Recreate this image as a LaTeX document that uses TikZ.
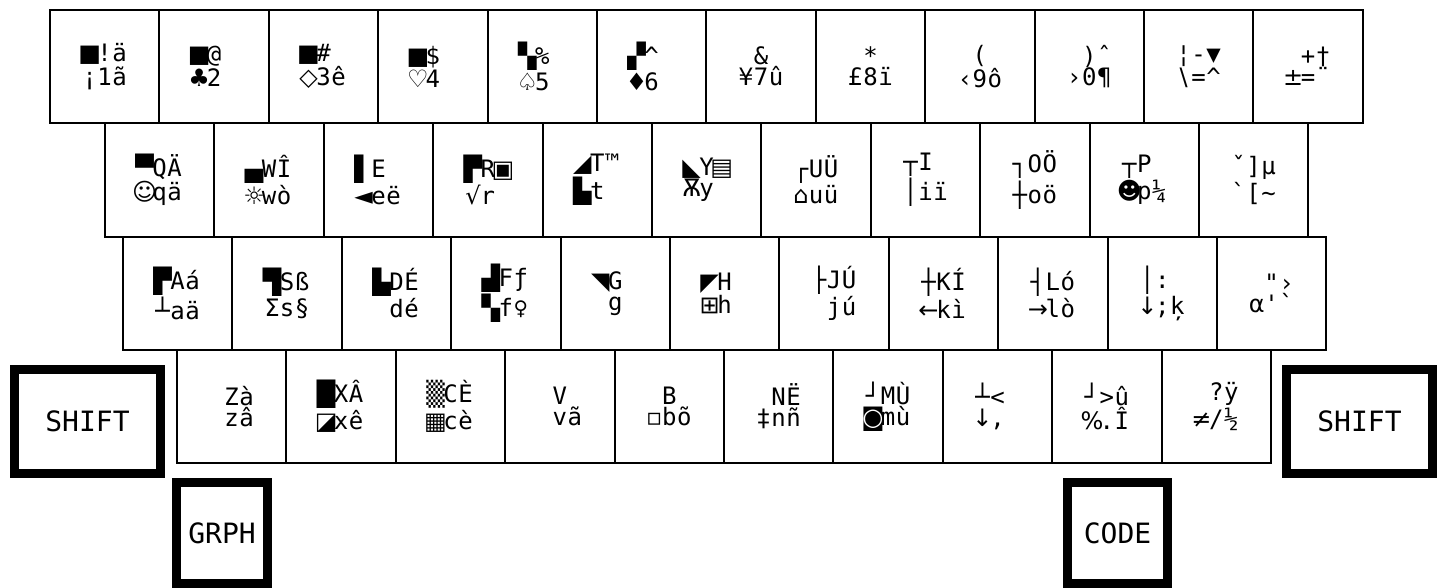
\documentclass[tikz,border=0pt]{standalone}
\usepackage{fontspec}
\setmonofont{DejaVu Sans Mono}
\newfontfamily\symfont{DejaVu Sans}
\usetikzlibrary{positioning}
\newlength\cw \setlength\cw{7.5pt}
\newcommand\cell[1]{\makebox[\cw]{#1}}
\newcommand\gcell[1]{\makebox[\cw]{\symfont #1}}
\newcommand\keytext[6]{\gcell{#1}\cell{#2}\cell{#3}\\\gcell{#4}\cell{#5}\cell{#6}}
\tikzset{
  key/.style={draw,line width=1pt,minimum width=54.7pt,minimum height=56.6pt,inner sep=0pt,align=center,font=\fontsize{12}{10.5}\selectfont\ttfamily},
  modkey/.style={draw,line width=4.5pt,inner sep=0pt,font=\fontsize{14}{16}\selectfont\ttfamily},
}
\begin{document}
\begin{tikzpicture}[x=0.5pt,y=-0.5pt]
 \useasboundingbox (0,0) rectangle (1438,588);
 \fill[white] (0,0) rectangle (1438,588);
 \foreach \k [count=\i] in {{■}{!}{ä}{¡}{1}{ã},{■}{@}{}{♣}{2}{},{■}{\#}{}{◇}{3}{ê},{■}{\$}{}{♡}{4}{},
   {▚}{\%}{}{♤}{5}{},{▞}{\textasciicircum}{}{♦}{6}{},{}{\&}{}{¥}{7}{û},{}{*}{}{£}{8}{ï},
   {}{(}{}{‹}{9}{ô},{}{)}{ˆ}{›}{0}{¶},{¦}{-}{▼}{\textbackslash}{=}{\textasciicircum},{}{+}{†}{±}{=}{¨}}
  {\node[key] (num\i) at ({50+(\i-0.5)*109.4},66.6) {\expandafter\keytext\k};}
 \foreach \k [count=\i] in {{▀}{Q}{Ä}{☺}{q}{ä},{▄}{W}{Î}{☼}{w}{ò},{▌}{E}{}{◄}{e}{ë},{▛}{R}{\symfont ▣}{√}{r}{},
   {◢}{T}{™}{▙}{t}{},{◣}{Y}{\symfont ▤}{Ѫ}{y}{},{┌}{U}{Ü}{⌂}{u}{ü},{┬}{I}{}{│}{i}{ï},
   {┐}{O}{Ö}{┼}{o}{ö},{┬}{P}{}{☻}{p}{¼},{ˇ}{]}{µ}{`}{[}{\textasciitilde}}
  {\node[key] (qw\i) at ({105+(\i-0.5)*109.4},179.9) {\expandafter\keytext\k};}
 \foreach \k [count=\i] in {{▛}{A}{á}{┴}{a}{ä},{▜}{S}{ß}{Σ}{s}{§},{▙}{D}{É}{}{d}{é},{▟}{F}{ƒ}{▚}{f}{♀},
   {◥}{G}{}{}{g}{},{◤}{H}{}{⊞}{h}{},{├}{J}{Ú}{}{j}{ú},{┼}{K}{Í}{←}{k}{ì},
   {┤}{L}{ó}{→}{l}{ò},{│}{:}{}{↓}{;}{ķ},{}{"}{›}{α}{'}{`}}
  {\node[key] (as\i) at ({123+(\i-0.5)*109.4},293.2) {\expandafter\keytext\k};}
 \foreach \k [count=\i] in {{}{Z}{à}{}{z}{â},{█}{X}{Â}{◪}{x}{ê},{▒}{C}{È}{▦}{c}{è},{}{V}{}{}{v}{ã},
   {}{B}{}{▫}{b}{õ},{}{N}{Ë}{‡}{n}{ñ},{┘}{M}{Ù}{◙}{m}{ù},{┴}{<}{}{↓}{,}{},
   {┘}{>}{û}{\%}{.}{Î},{}{?}{ÿ}{≠}{/}{½}}
  {\node[key] (zx\i) at ({177+(\i-0.5)*109.4},406.5) {\expandafter\keytext\k};}
 \node[modkey,minimum width=73pt,minimum height=52pt] (shiftl) at (87.5,421.5){SHIFT};
 \node[modkey,minimum width=73pt,minimum height=52pt] (shiftr) at (1359.5,421.5){SHIFT};
 \node[modkey,minimum width=45.5pt,minimum height=50.5pt] (grph) at (222,533){GRPH};
 \node[modkey,minimum width=50pt,minimum height=50.5pt] (code) at (1117.5,533){CODE};
\end{tikzpicture}
\end{document}
